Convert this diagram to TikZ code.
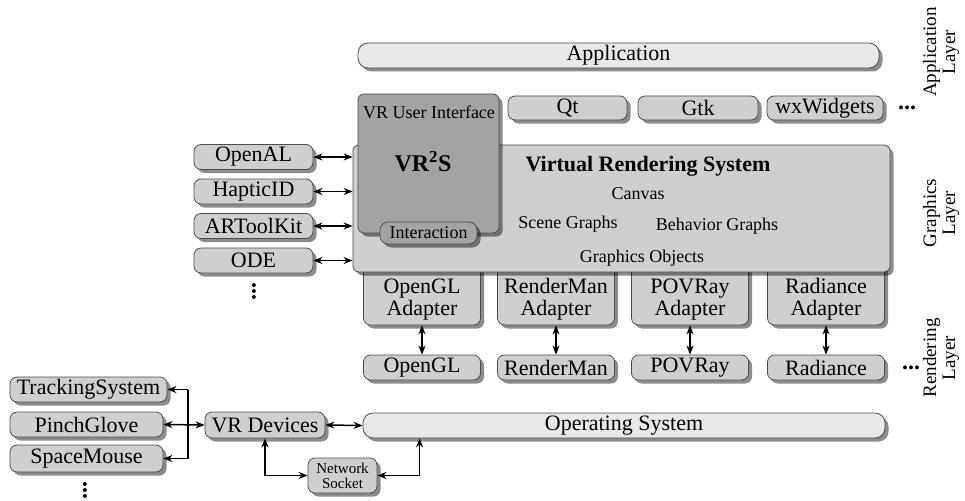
\documentclass[tikz,border=0pt]{standalone}
\usepackage{fontspec}
\setmainfont{Liberation Serif}
\usetikzlibrary{arrows.meta,shadows}
\tikzset{
  modbox/.style={draw=black!70, line width=0.8pt, fill=black!19, rounded corners=7pt,
    inner sep=0pt, minimum height=25pt, font=\fontsize{22}{22}\selectfont,
    drop shadow={shadow xshift=3.5pt,shadow yshift=-3.5pt,fill=black,opacity=0.45}},
  layerbox/.style={modbox, fill=black!9, rounded corners=10pt},
  uibox/.style={modbox, fill=black!36, rounded corners=6pt},
  biarrow/.style={{Stealth[length=9pt,width=7pt]}-{Stealth[length=9pt,width=7pt]}, line width=1.5pt},
  onearrow/.style={-{Stealth[length=9pt,width=7pt]}, line width=1.5pt},
  small/.style={font=\fontsize{18}{18}\selectfont},
  dots/.style={font=\fontsize{24}{24}\selectfont\bfseries, inner sep=1pt},
}
\begin{document}
\begin{tikzpicture}[x=1pt,y=-1pt]
\useasboundingbox (0,0) rectangle (965,500);
% application layer
\node[layerbox, minimum width=521pt] (app) at (618.5,55.5) {Application};
\node[modbox, minimum width=119pt, minimum height=24pt] (qt) at (567.5,108) {Qt};
\node[modbox, minimum width=120pt, minimum height=24pt] (gtk) at (698,108) {Gtk};
\node[modbox, minimum width=116pt, minimum height=24pt] (wx) at (825,108) {wxWidgets};
\node[dots] (appdots) at (907,108) {...};
% adapters sit behind the graphics layer
\foreach \name/\txt/\x in {ogl/OpenGL/422, rman/RenderMan/556, pov/POVRay/690, rad/Radiance/826} {
  \node[modbox, minimum width=117pt, minimum height=63pt] (\name A) at (\x,293.5) {};
  \node[align=center, inner sep=0pt, font=\fontsize{22}{22}\selectfont] (\name Atxt) at ([yshift=-6pt]\name A.center) {\txt\\Adapter};
}
% graphics layer
\node[modbox, minimum width=537pt, minimum height=127pt, rounded corners=6pt] (vrs) at (621.5,208.5) {};
\node[font=\fontsize{22}{22}\selectfont\bfseries] (vrstitle) at (648,166) {Virtual Rendering System};
\node[small] (canvas) at (638,194) {Canvas};
\node[small] (scene) at (568,224) {Scene Graphs};
\node[small] (behav) at (717,226) {Behavior Graphs};
\node[small] (gobj) at (642,258) {Graphics Objects};
\node[uibox, minimum width=141pt, minimum height=139pt] (vrui) at (428.5,163.5) {};
\node[small] (vruitxt) at (429,112) {VR User Interface};
\node[font=\fontsize{24}{24}\selectfont\bfseries] (vr2s) at (423,162) {VR\textsuperscript{2}S};
\node[uibox, small, minimum width=97pt, minimum height=22pt, rounded corners=8pt] (inter) at (428.5,233) {Interaction};
\foreach \name/\txt [count=\i from 0] in {openal/OpenAL, haptic/HapticID, artk/ARToolKit, ode/ODE} {
  \node[modbox, minimum width=119pt] (\name) at (253.5,157+34.5*\i) {\txt};
  \draw[biarrow] (\name.east) -- (\name.east -| vrs.west);
}
\node[dots, rotate=90] (plugdots) at (254,291) {...};
% rendering layer
\foreach \name/\txt/\x in {ogl/OpenGL/422, rman/RenderMan/556, pov/POVRay/690, rad/Radiance/826} {
  \node[modbox, minimum width=117pt] (\name) at (\x,367.5) {\txt};
  \draw[biarrow] (\name A.south) -- (\name.north);
}
\node[dots] (renddots) at (911,368) {...};
% operating system and devices
\node[layerbox, minimum width=522pt] (os) at (624,425.5) {Operating System};
\node[modbox, minimum width=120pt, minimum height=26pt] (vrdev) at (265,425) {VR Devices};
\node[modbox, align=center, minimum width=69pt, minimum height=35pt, font=\fontsize{15}{15}\selectfont] (sock) at (342.5,475.5) {Network\\Socket};
\node[modbox, minimum width=157pt] (track) at (88.5,389.5) {TrackingSystem};
\node[modbox, minimum width=153pt] (pinch) at (86.5,424.5) {PinchGlove};
\node[modbox, minimum width=153pt, minimum height=27pt] (space) at (86.5,458.5) {SpaceMouse};
\node[dots, rotate=90] (devdots) at (85,490) {...};
\coordinate (bus) at (188,424.5);
\draw[line width=1.5pt] (track.east -| bus) -- (space.east -| bus);
\draw[onearrow] (track.east -| bus) -- (track.east);
\draw[onearrow] (space.east -| bus) -- (space.east);
\draw[biarrow] (pinch.east) -- (vrdev.west);
\draw[biarrow] (vrdev.east) -- (os.west);
\draw[biarrow] (vrdev.south) |- (sock.west);
\draw[biarrow] (sock.east) -| ([xshift=57pt]os.south west);
% layer labels
\node[rotate=90, align=center, font=\fontsize{19}{19}\selectfont] (applayer) at (941,52) {Application\\Layer};
\node[rotate=90, align=center, font=\fontsize{19}{19}\selectfont] (gfxlayer) at (941,213) {Graphics\\Layer};
\node[rotate=90, align=center, font=\fontsize{19}{19}\selectfont] (rendlayer) at (941,358) {Rendering\\Layer};
\end{tikzpicture}
\end{document}
